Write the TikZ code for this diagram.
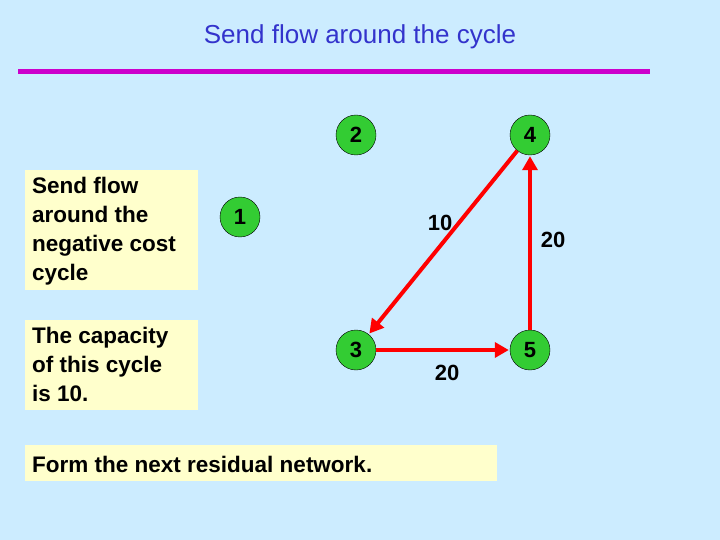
\documentclass[tikz,border=0pt]{standalone}
\usepackage{fontspec}
\setmainfont{Liberation Sans}
\usetikzlibrary{arrows.meta}
\definecolor{bg}{HTML}{CCECFF}
\definecolor{boxy}{HTML}{FFFFCC}
\definecolor{nodeg}{HTML}{33CC33}
\definecolor{titleb}{HTML}{3333CC}
\definecolor{mag}{HTML}{CC00CC}
\begin{document}
\begin{tikzpicture}[x=1pt,y=-1pt,
  vert/.style={circle,draw=black,fill=nodeg,minimum size=40pt,inner sep=0pt,font=\fontsize{22}{26}\selectfont\bfseries},
  arc/.style={draw=red,line width=4pt,-{Triangle[length=14pt,width=15pt]},shorten >=1pt},
  lab/.style={font=\fontsize{22}{26}\selectfont\bfseries},
  note/.style={fill=boxy,anchor=north west,align=left,inner sep=0pt,font=\fontsize{22.5}{29}\selectfont\bfseries}]
\fill[bg] (0,0) rectangle (720,540);
\useasboundingbox (0,0) rectangle (720,540);
\node[text=titleb,font=\fontsize{26}{30}\selectfont] (title) at (360,37) {Send flow around the cycle};
\draw[mag,line width=5pt] (18,72) -- (650,72);
\node[vert] (n2) at (356,135) {2};
\node[vert] (n4) at (530,135) {4};
\node[vert] (n1) at (240,217) {1};
\node[vert] (n3) at (356,350) {3};
\node[vert] (n5) at (530,350) {5};
\draw[arc] (n4) -- (n3);
\draw[arc] (n3) -- (n5);
\draw[arc] (n5) -- (n4);
\node[lab] (l1) at (440,223) {10};
\node[lab] (l2) at (553,240) {20};
\node[lab] (l3) at (447,373) {20};
\node[fill=boxy,anchor=north west,minimum width=173pt,minimum height=120pt,inner sep=0pt] (b1) at (25,170) {};
\node[note] (t1) at (32,177) {Send flow\\around the\\negative cost\\cycle};
\node[fill=boxy,anchor=north west,minimum width=173pt,minimum height=90pt,inner sep=0pt] (b2) at (25,320) {};
\node[note] (t2) at (32,327) {The capacity\\of this cycle\\is 10.};
\node[fill=boxy,anchor=north west,minimum width=472pt,minimum height=36pt,inner sep=0pt] (b3) at (25,445) {};
\node[note,anchor=west] (t3) at (32,464) {Form the next residual network.};
\end{tikzpicture}
\end{document}
